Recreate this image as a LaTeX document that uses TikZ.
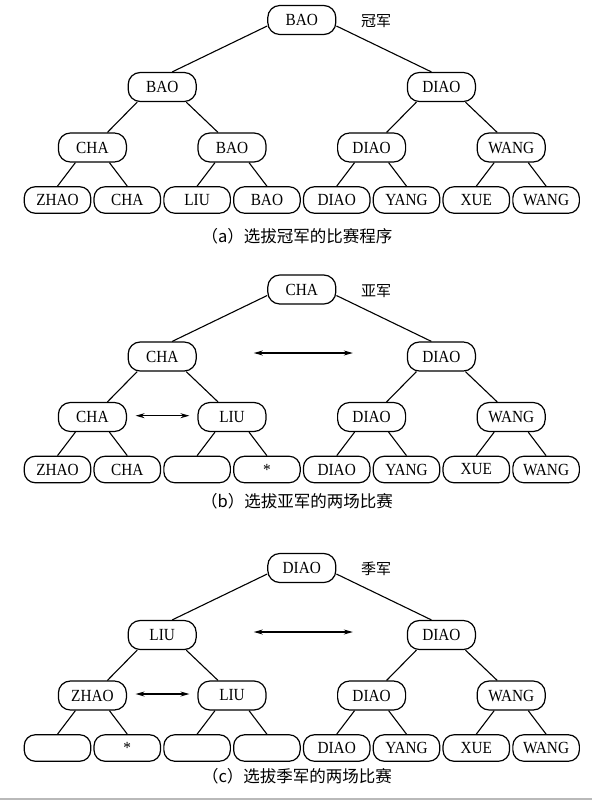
\documentclass[tikz,border=0pt]{standalone}
\usepackage{fontspec}
\setmainfont{Liberation Serif}
\newfontfamily\nodefont{Liberation Serif}[FakeStretch=0.9]
\newfontfamily\cjk{Noto Sans CJK SC}
\usetikzlibrary{arrows.meta}
\tikzset{
  innode/.style={draw, line width=1.2pt, rounded corners=12pt, minimum width=68pt,
    minimum height=29pt, inner sep=0pt, fill=white, font=\nodefont\fontsize{17pt}{19pt}\selectfont},
  leafnode/.style={draw, line width=1.2pt, rounded corners=11pt, minimum width=66.5pt,
    minimum height=26.5pt, inner sep=0pt, fill=white, font=\nodefont\fontsize{17pt}{19pt}\selectfont},
  edgeline/.style={line width=1.1pt},
  dblarrow/.style={line width=1.1pt, {Stealth[length=9pt,width=5pt]}-{Stealth[length=9pt,width=5pt]}},
  captext/.style={font=\cjk\fontsize{16.5pt}{20pt}\selectfont, inner sep=0pt},
  labtext/.style={font=\cjk\fontsize{15pt}{18pt}\selectfont, inner sep=0pt},
}
% #1 prefix, #2 y offset, #3 root, #4-#5 level 2, #6-#9 level 3
\newcommand\mytree[9]{%
  \node[innode] (#1r) at (301.8, 20+#2) {#3};
  \node[innode] (#1s0) at (162.2, 87+#2) {#4};
  \node[innode] (#1s1) at (441.4, 87+#2) {#5};
  \node[innode] (#1t0) at (92.4, 147.5+#2) {#6};
  \node[innode] (#1t1) at (232.0, 147.5+#2) {#7};
  \node[innode] (#1t2) at (371.6, 147.5+#2) {#8};
  \node[innode] (#1t3) at (511.2, 147.5+#2) {#9};
  \draw[edgeline] ([yshift=-6pt]#1r.west) -- ([xshift=10pt]#1s0.north);
  \draw[edgeline] ([yshift=-6pt]#1r.east) -- ([xshift=-10pt]#1s1.north);
  \draw[edgeline] ([xshift=-25pt]#1s0.south) -- ([xshift=15pt]#1t0.north);
  \draw[edgeline] ([xshift=24pt]#1s0.south) -- ([xshift=-14pt]#1t1.north);
  \draw[edgeline] ([xshift=-25pt]#1s1.south) -- ([xshift=15pt]#1t2.north);
  \draw[edgeline] ([xshift=24pt]#1s1.south) -- ([xshift=-14pt]#1t3.north);
}
% #1 prefix, #2 y offset, #3 list of leaves
\newcommand\myleaves[3]{%
  \foreach \t [count=\i from 0] in {#3} {
    \node[leafnode] (#1l\i) at ({57.5+69.8*\i}, 200+#2) {\t};
  }
  \draw[edgeline] ([xshift=-17pt]#1t0.south) -- (#1l0.north);
  \draw[edgeline] ([xshift=17pt]#1t0.south) -- (#1l1.north);
  \draw[edgeline] ([xshift=-17pt]#1t1.south) -- (#1l2.north);
  \draw[edgeline] ([xshift=17pt]#1t1.south) -- (#1l3.north);
  \draw[edgeline] ([xshift=-17pt]#1t2.south) -- (#1l4.north);
  \draw[edgeline] ([xshift=17pt]#1t2.south) -- (#1l5.north);
  \draw[edgeline] ([xshift=-17pt]#1t3.south) -- (#1l6.north);
  \draw[edgeline] ([xshift=17pt]#1t3.south) -- (#1l7.north);
}
\begin{document}
\begin{tikzpicture}[x=1pt, y=-1pt]
  \useasboundingbox (0,0) rectangle (592,800);
  \fill[white] (0,0) rectangle (592,800);

  % (a)
  \mytree{a}{0}{BAO}{BAO}{DIAO}{CHA}{BAO}{DIAO}{WANG}
  \myleaves{a}{0}{ZHAO,CHA,LIU,BAO,DIAO,YANG,XUE,WANG}
  \node[labtext] (alab) at (376, 21.5) {冠军};
  \node[captext] (acap) at (297, 236.5) {（a）选拔冠军的比赛程序};

  % (b)
  \mytree{b}{269.5}{CHA}{CHA}{DIAO}{CHA}{LIU}{DIAO}{WANG}
  \myleaves{b}{269.5}{ZHAO,CHA,{},*,DIAO,YANG,XUE,WANG}
  \node[labtext] (blab) at (376, 291) {亚军};
  \node[captext] (bcap) at (297, 501) {（b）选拔亚军的两场比赛};
  \draw[dblarrow] ([xshift=57pt,yshift=3.5pt]bs0.east) -- ([xshift=-54pt,yshift=3.5pt]bs1.west);
  \draw[dblarrow] ([xshift=8.6pt,yshift=1.3pt]bt0.east) -- ([xshift=-8pt,yshift=1.3pt]bt1.west);

  % (c)
  \mytree{c}{548}{DIAO}{LIU}{DIAO}{ZHAO}{LIU}{DIAO}{WANG}
  \myleaves{c}{548}{{},*,{},{},DIAO,YANG,XUE,WANG}
  \node[labtext] (clab) at (376, 569) {季军};
  \node[captext] (ccap) at (297, 776) {（c）选拔季军的两场比赛};
  \draw[dblarrow] ([xshift=57pt,yshift=3pt]cs0.east) -- ([xshift=-54pt,yshift=3pt]cs1.west);
  \draw[dblarrow] ([xshift=8.6pt,yshift=1.5pt]ct0.east) -- ([xshift=-8pt,yshift=1.5pt]ct1.west);

  \fill[gray!55] (0,797.5) rectangle (592,800);
\end{tikzpicture}
\end{document}
